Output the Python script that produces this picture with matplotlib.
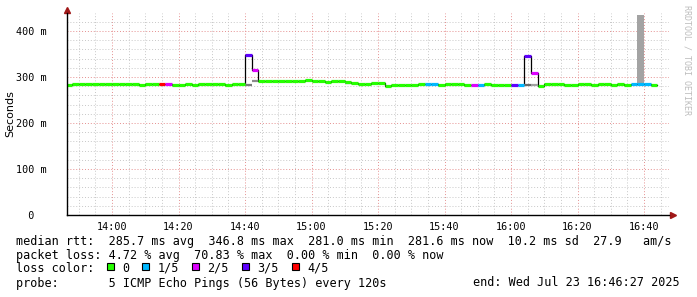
import numpy as np
import matplotlib
matplotlib.use("Agg")
import matplotlib.pyplot as plt
from matplotlib.patches import Rectangle

plt.rcParams['font.family'] = ['DejaVu Sans Mono']

# median rtt per 2 minute step (ms), first step starts 13:46
median_ms = [
    282, 284, 284, 284, 284, 284, 284, 284, 284, 284,
    284, 282, 284, 284, 284, 284, 282, 282, 284, 282,
    284, 284, 284, 284, 282, 284, 284, 347, 316, 292,
    292, 292, 292, 292, 292, 292, 294, 291, 291, 289,
    291, 291, 288, 286, 284, 284, 286, 286, 281, 283,
    283, 283, 283, 285, 285, 285, 283, 285, 285, 285,
    283, 283, 283, 285, 283, 283, 283, 283, 283, 345,
    308, 281, 285, 285, 285, 283, 283, 285, 285, 283,
    285, 285, 283, 285, 283, 285, 285, 285, 283, np.nan,
]
# lost pings out of 5 per step
loss = [
    0, 0, 0, 0, 0, 0, 0, 0, 0, 0,
    0, 0, 0, 0, 4, 2, 0, 0, 0, 0,
    0, 0, 0, 0, 0, 0, 0, 3, 2, 0,
    0, 0, 0, 0, 0, 0, 0, 0, 0, 0,
    0, 0, 0, 0, 0, 0, 0, 0, 0, 0,
    0, 0, 0, 0, 1, 1, 0, 0, 0, 0,
    0, 2, 1, 0, 0, 0, 0, 3, 1, 3,
    2, 0, 0, 0, 0, 0, 0, 0, 0, 0,
    0, 0, 0, 0, 0, 1, 1, 1, 0, 0,
]
# visible smoke
smoke_idx = [27, 28, 42, 69, 70]
smoke_ms = [283, 291, 287, 283, 282]
smoke_col = ['#7a7a7a', '#8a8a8a', '#8a8a8a', '#6a6a6a', '#a0a0a0']
bar_idx = [86]
bar_lo = [285]
bar_hi = [435]

loss_labels = ['0', '1/5', '2/5', '3/5', '4/5']
loss_colors = ['#26ff00', '#00b8ff', '#dd00ff', '#5e00ff', '#ff0000']

xtick_min = [0, 20, 40, 60, 80, 100, 120, 140, 160]
xtick_lab = ['14:00', '14:20', '14:40', '15:00', '15:20', '15:40', '16:00', '16:20', '16:40']
ytick_ms = [0, 100, 200, 300, 400]
ytick_lab = ['  0  ', '100 m', '200 m', '300 m', '400 m']

legend_rows = [
    'median rtt:  285.7 ms avg  346.8 ms max  281.0 ms min  281.6 ms now  10.2 ms sd  27.9   am/s',
    'packet loss: 4.72 % avg  70.83 % max  0.00 % min  0.00 % now',
    'loss color:',
    'probe:       5 ICMP Echo Pings (56 Bytes) every 120s',
]
end_text = 'end: Wed Jul 23 16:46:27 2025'

W, H = 697, 297
fig = plt.figure(figsize=(W / 100, H / 100), dpi=100)
ax = fig.add_axes([67 / W, 82 / H, (669 - 67) / W, (215 - 13) / H])

step = 2.0
t0 = -14 + step * np.arange(len(median_ms))
med = np.array(median_ms, dtype=float)

# grid
ax.set_xticks(xtick_min)
ax.set_xticks(np.arange(-10, 170, 5), minor=True)
ax.set_yticks(ytick_ms)
ax.set_yticks(np.arange(0, 440, 20), minor=True)
ax.grid(which='minor', color='#c8c8c8', linestyle=(0, (1, 2)), linewidth=0.7)
ax.grid(which='major', color='#e58f8f', linestyle=(0, (1, 2)), linewidth=0.7)
ax.set_axisbelow(True)

# smoke bar
for i, lo, hi in zip(bar_idx, bar_lo, bar_hi):
    ax.fill_between([t0[i], t0[i] + step], lo, hi, color='#a3a3a3', lw=0, zorder=2)

# median outline
xe = np.append(t0, t0[-1] + step)
ax.step(xe, np.append(med, med[-1]), where='post', color='black', lw=0.9, zorder=3)

for i, v, c in zip(smoke_idx, smoke_ms, smoke_col):
    ax.hlines(v, t0[i], t0[i] + step, colors=c, lw=1.6, zorder=4)

cols = [loss_colors[k] for k in loss]
ax.hlines(med, t0, t0 + step, colors=cols, lw=2.3, zorder=5)

ax.set_xlim(-13.53, 167.5)
ax.set_ylim(0, 439)

for s in ['top', 'right']:
    ax.spines[s].set_visible(False)
for s in ['left', 'bottom']:
    ax.spines[s].set_linewidth(1.0)
    ax.spines[s].set_zorder(6)

ax.set_xticklabels(xtick_lab, fontsize=7.3)
ax.set_yticklabels(ytick_lab, fontsize=7.3)
ax.tick_params(which='both', length=0)
ax.tick_params(axis='x', pad=5)
ax.tick_params(axis='y', pad=37)
for lbl in ax.get_yticklabels():
    lbl.set_horizontalalignment('left')

ax.set_ylabel('Seconds', family='DejaVu Sans', fontsize=8)
ax.yaxis.set_label_coords((15.5 - 67) / 600, 0.5)

# axis arrows
ax.plot([0], [1.015], marker='^', color='#a01818', ms=4, transform=ax.transAxes, clip_on=False)
ax.plot([1.006], [0], marker='>', color='#a01818', ms=4, transform=ax.transAxes, clip_on=False)

fig.text(686.5 / W, 1 - 5 / H, 'RRDTOOL / TOBI OETIKER', rotation=270, fontsize=6,
         color='#bdbdbd', ha='center', va='top')

# legend
fs = 8.5
cw = fs * 0.602 * 100 / 72
x0 = 15.5
rows_y = [241, 255, 268, 283]
for s, y in zip(legend_rows, rows_y):
    fig.text(x0 / W, 1 - y / H, s, fontsize=fs, va='center', ha='left')
fig.text(680 / W, 1 - rows_y[3] / H, end_text, fontsize=fs, va='center', ha='right')

col = 13
for lab, c in zip(loss_labels, loss_colors):
    bx = x0 + col * cw - 1
    fig.patches.append(Rectangle((bx / W, 1 - 270 / H), 7 / W, 7 / H, transform=fig.transFigure,
                                 facecolor=c, edgecolor='black', lw=0.8))
    fig.text((x0 + (col + 2) * cw) / W, 1 - 268 / H, lab, fontsize=fs, va='center', ha='left')
    col += 4 + len(lab)

fig.savefig('out.png', dpi=100, facecolor='white')
